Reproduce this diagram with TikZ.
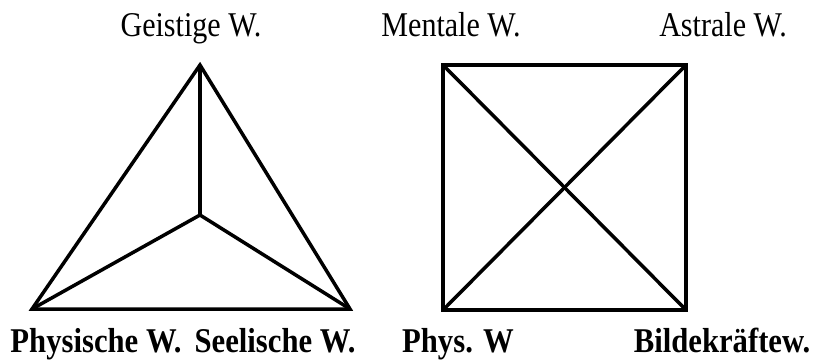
\documentclass[tikz,border=0pt]{standalone}
\usepackage{fontspec}
\usepackage{graphicx}
\setmainfont{Liberation Serif}
\newcommand{\tallish}[1]{\scalebox{0.97}[1.12]{#1}}
\newcommand{\tallbold}[1]{\scalebox{0.99}[1.12]{#1}}
\begin{document}
\begin{tikzpicture}[x=1pt,y=1pt,
  edge/.style={line width=3.5pt,line join=miter},
  toplabel/.style={anchor=base,inner sep=0pt,font=\fontsize{31}{31}\selectfont},
  botlabel/.style={anchor=base,inner sep=0pt,font=\fontsize{31}{31}\selectfont\bfseries}]
\useasboundingbox (0,0) rectangle (813,360);
% triangle
\coordinate (A) at (200,295);
\coordinate (B) at (32,51);
\coordinate (C) at (350,51);
\coordinate (I) at (200,145);
\draw[edge] (A) -- (B) -- (C) -- cycle;
\draw[edge] (A) -- (I);
\draw[edge] (B) -- (I) -- (C);
% square
\coordinate (TL) at (443,295);
\coordinate (TR) at (686,295);
\coordinate (BL) at (443,50);
\coordinate (BR) at (686,50);
\draw[edge] (TL) -- (TR) -- (BR) -- (BL) -- cycle;
\draw[edge] (TL) -- (BR);
\draw[edge] (TR) -- (BL);
% labels
\node[toplabel] (geist) at (191,324) {\tallish{Geistige W.}};
\node[toplabel] (ment) at (451,324) {\tallish{Mentale W.}};
\node[toplabel] (astr) at (723,324) {\tallish{Astrale W.}};
\node[botlabel] (phys) at (96,8) {\tallbold{Physische W.}};
\node[botlabel] (seel) at (275,8) {\tallbold{Seelische W.}};
\node[botlabel] (physw) at (458,8) {\tallbold{Phys. W}};
\node[botlabel] (bild) at (722,8) {\tallbold{Bildekräftew.}};
\end{tikzpicture}
\end{document}
